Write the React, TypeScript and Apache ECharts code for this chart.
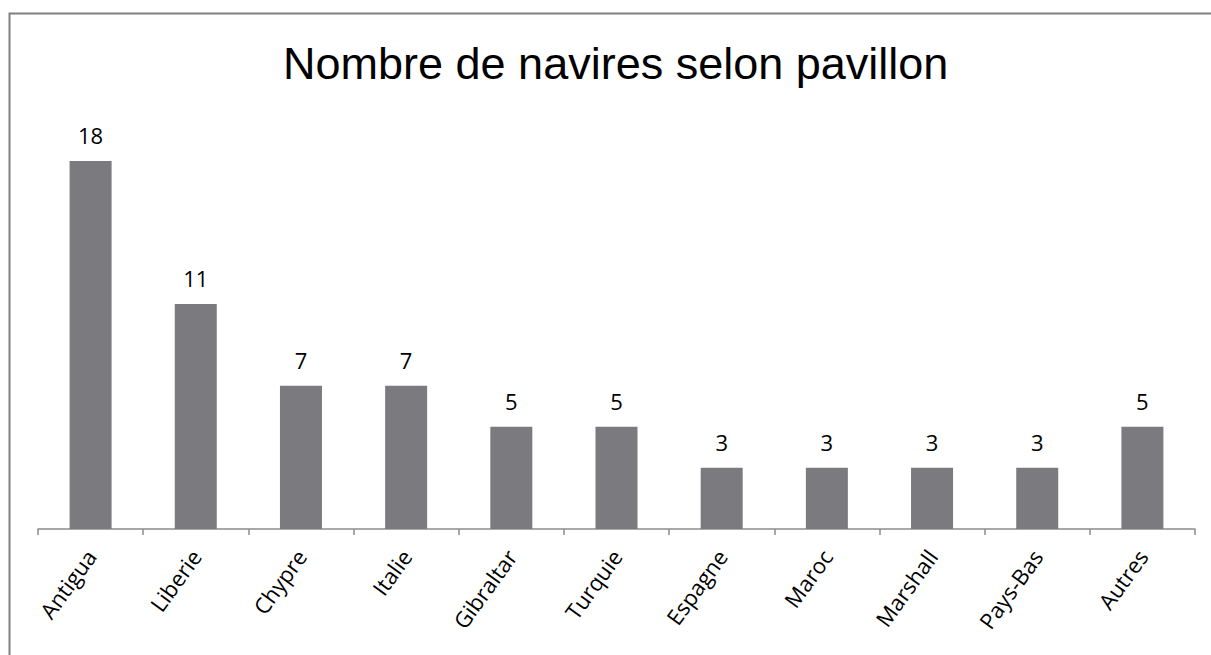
import React, { useEffect, useRef } from "react";
import * as echarts from "echarts";

const categories = ["Antigua", "Liberie", "Chypre", "Italie", "Gibraltar", "Turquie", "Espagne", "Maroc", "Marshall", "Pays-Bas", "Autres"];
const values = [18, 11, 7, 7, 5, 5, 3, 3, 3, 3, 5];
const title = "Nombre de navires selon pavillon";

export default function App() {
  const ref = useRef<HTMLDivElement>(null);
  useEffect(() => {
    const chart = echarts.init(ref.current!, null, { renderer: "svg" });
    chart.setOption({
      animation: false,
      backgroundColor: "#ffffff",
      title: {
        text: title,
        left: 278,
        top: 36,
        textStyle: { fontFamily: "Liberation Sans", fontSize: 45, fontWeight: "normal", color: "#000" },
      },
      graphic: [
        {
          type: "rect",
          shape: { x: 9.5, y: 13.5, width: 1300, height: 700 },
          style: { fill: "none", stroke: "#808080", lineWidth: 2 },
          z: 100,
        },
      ],
      grid: { left: 38, right: 16, top: 120, bottom: 126 },
      xAxis: {
        type: "category",
        data: categories,
        axisLine: { lineStyle: { color: "#8c8c8c", width: 1.5 } },
        axisTick: { show: true, length: 6, lineStyle: { color: "#8c8c8c", width: 1.5 } },
        axisLabel: { rotate: 54, fontFamily: "Open Sans", fontSize: 22, color: "#000", margin: 23, interval: 0 },
      },
      yAxis: {
        type: "value",
        min: 0,
        max: 20,
        show: false,
        splitLine: { show: false },
      },
      series: [
        {
          type: "bar",
          data: values,
          barWidth: 42,
          itemStyle: { color: "#7b7b7f" },
          label: { show: true, position: "top", distance: 15, fontFamily: "Open Sans", fontSize: 22, color: "#000" },
        },
      ],
    });
    return () => chart.dispose();
  }, []);
  return <div ref={ref} style={{ position: "absolute", left: 0, top: 0, width: 1211, height: 655 }} />;
}
